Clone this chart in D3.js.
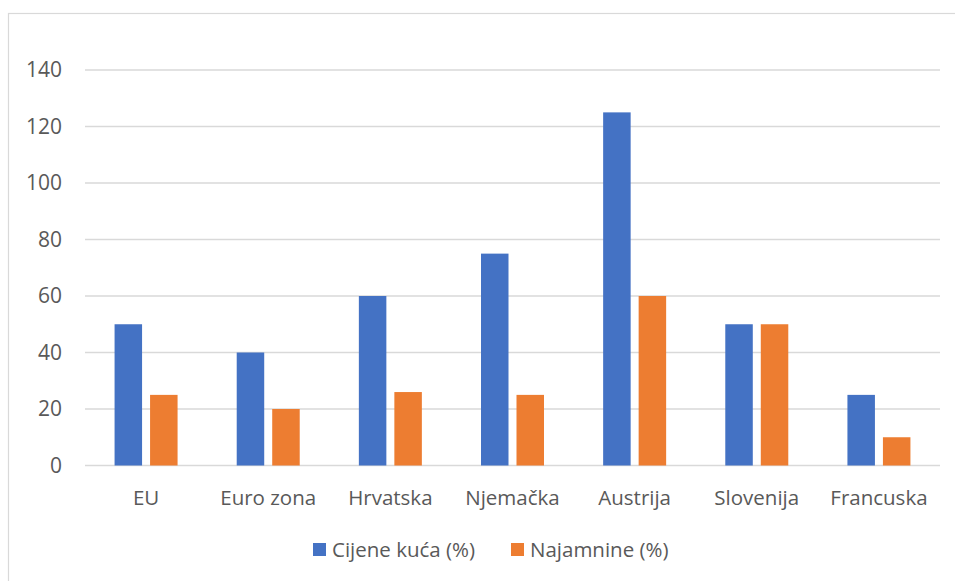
<!DOCTYPE html>
<html>
<head>
<meta charset="utf-8">
<script src="https://cdn.jsdelivr.net/npm/d3@7"></script>
<style>
  body { margin: 0; background: #fff; }
  text { font-family: "Open Sans", "Noto Sans", sans-serif; fill: #595959; }
</style>
</head>
<body>
<div id="chart"></div>
<script>
const categories = ['EU', 'Euro zona', 'Hrvatska', 'Njemačka', 'Austrija', 'Slovenija', 'Francuska'];
const houseValues = [50, 40, 60, 75, 125, 50, 25];
const rentValues = [25, 20, 26, 25, 60, 50, 10];
const seriesNames = ['Cijene kuća (%)', 'Najamnine (%)'];
const yTicks = [0, 20, 40, 60, 80, 100, 120, 140];

const width = 955, height = 581;
const margin = {top: 70, right: 15, bottom: 115, left: 85};
const colors = ['#4472c4', '#ed7d31'];

const svg = d3.select('#chart').append('svg')
    .attr('width', width)
    .attr('height', height);

// chart border
svg.append('rect')
    .attr('x', 8.5).attr('y', 13.5)
    .attr('width', width).attr('height', height)
    .attr('fill', 'none')
    .attr('stroke', '#d9d9d9')
    .attr('stroke-width', 1.2);

const x = d3.scaleBand()
    .domain(categories)
    .range([margin.left, width - margin.right]);

const y = d3.scaleLinear()
    .domain([0, 140])
    .range([height - margin.bottom - 0.5, margin.top]);

// gridlines
svg.append('g')
    .selectAll('line')
    .data(yTicks)
    .join('line')
    .attr('x1', margin.left)
    .attr('x2', width - margin.right)
    .attr('y1', d => y(d))
    .attr('y2', d => y(d))
    .attr('stroke', '#d9d9d9')
    .attr('stroke-width', 1.5);

// y tick labels
svg.append('g')
    .selectAll('text')
    .data(yTicks)
    .join('text')
    .attr('x', 62)
    .attr('y', d => y(d))
    .attr('dy', '0.35em')
    .attr('text-anchor', 'end')
    .attr('font-size', 21)
    .text(d => d);

const barW = 27.5, innerGap = 8;
const series = [houseValues, rentValues];

series.forEach((vals, si) => {
    svg.append('g')
        .selectAll('rect')
        .data(vals)
        .join('rect')
        .attr('x', (d, i) => x(categories[i]) + x.bandwidth() / 2
              + (si === 0 ? -innerGap / 2 - barW : innerGap / 2))
        .attr('y', d => y(d))
        .attr('width', barW)
        .attr('height', d => y(0) - y(d))
        .attr('fill', colors[si]);
});

// category labels
svg.append('g')
    .selectAll('text')
    .data(categories)
    .join('text')
    .attr('x', d => x(d) + x.bandwidth() / 2)
    .attr('y', 505)
    .attr('text-anchor', 'middle')
    .attr('font-size', 20.5)
    .text(d => d);

// legend
const legendX = [313, 511];
const legend = svg.append('g')
    .selectAll('g')
    .data(seriesNames)
    .join('g')
    .attr('transform', (d, i) => 'translate(' + legendX[i] + ',543)');

legend.append('rect')
    .attr('width', 13)
    .attr('height', 13)
    .attr('fill', (d, i) => colors[i]);

legend.append('text')
    .attr('x', 19)
    .attr('y', 14)
    .attr('font-size', 20.5)
    .text(d => d);
</script>
</body>
</html>
